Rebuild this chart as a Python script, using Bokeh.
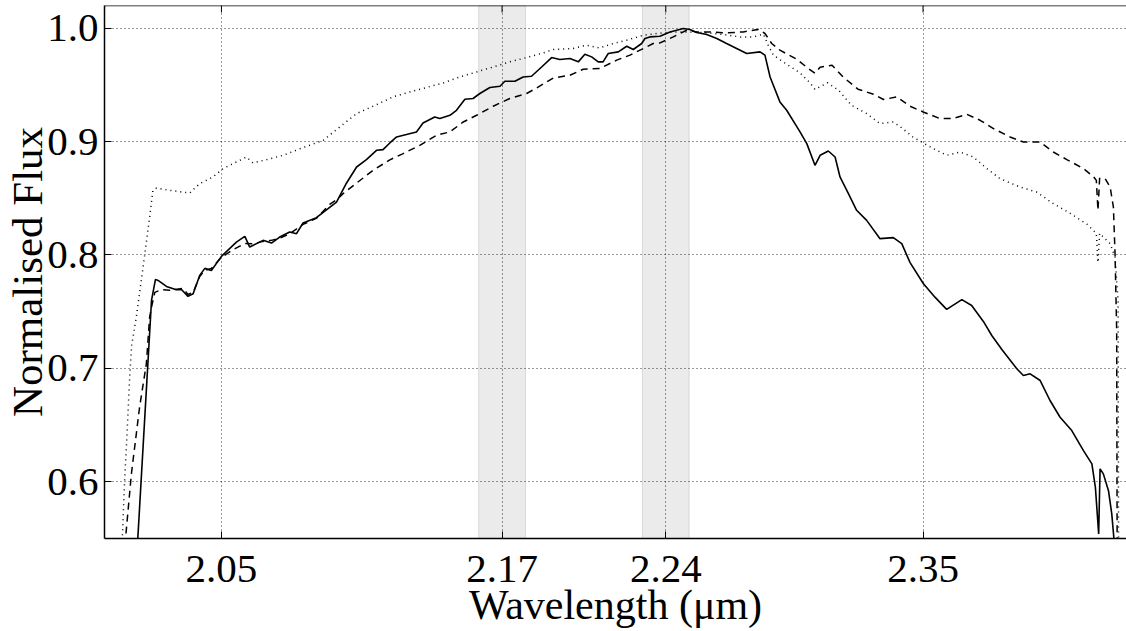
from bokeh.plotting import figure
from bokeh.models import Range1d, FixedTicker, BoxAnnotation, NumeralTickFormatter, Span
from bokeh.embed import file_html
from bokeh.resources import INLINE

# ---- data (wavelength in micron, normalised flux) ----
wl_solid = [2.0141, 2.0201, 2.0218, 2.0229, 2.0265, 2.0307, 2.0329, 2.0357, 2.0379, 2.0407,
            2.0429, 2.0457, 2.0500, 2.0564, 2.0600, 2.0621, 2.0678, 2.0714, 2.0749, 2.0792,
            2.0821, 2.0849, 2.0906, 2.0956, 2.0992, 2.1035, 2.1078, 2.1120, 2.1163, 2.1191,
            2.1220, 2.1249, 2.1291, 2.1334, 2.1362, 2.1412, 2.1434, 2.1477, 2.1505, 2.1541,
            2.1576, 2.1605, 2.1648, 2.1691, 2.1712, 2.1755, 2.1790, 2.1826, 2.1869, 2.1912,
            2.1947, 2.1990, 2.2026, 2.2054, 2.2083, 2.2111, 2.2132, 2.2154, 2.2197, 2.2233,
            2.2261, 2.2297, 2.2311, 2.2332, 2.2375, 2.2418, 2.2475, 2.2503, 2.2532, 2.2575,
            2.2618, 2.2660, 2.2703, 2.2746, 2.2803, 2.2824, 2.2846, 2.2888, 2.2917, 2.2974,
            2.3003, 2.3038, 2.3060, 2.3095, 2.3124, 2.3145, 2.3181, 2.3216, 2.3259, 2.3316,
            2.3373, 2.3409, 2.3444, 2.3501, 2.3551, 2.3601, 2.3666, 2.3708, 2.3758, 2.3794,
            2.3837, 2.3901, 2.3929, 2.3958, 2.4001, 2.4043, 2.4086, 2.4136, 2.4186, 2.4222,
            2.4237, 2.4251, 2.4257, 2.4271, 2.4293, 2.4307, 2.4317]
flux_solid = [0.545, 0.7599, 0.7785, 0.7776, 0.7723, 0.7694, 0.7696, 0.7635, 0.7658, 0.7820,
              0.7882, 0.7864, 0.7988, 0.8114, 0.8164, 0.8070, 0.8129, 0.8105, 0.8158, 0.8202,
              0.8188, 0.8282, 0.8329, 0.8409, 0.8467, 0.8635, 0.8776, 0.8841, 0.8923, 0.8929,
              0.8988, 0.9041, 0.9062, 0.9085, 0.9164, 0.9217, 0.9203, 0.9232, 0.9276, 0.9373,
              0.9380, 0.9424, 0.9477, 0.9488, 0.9532, 0.9532, 0.9570, 0.9576, 0.9658, 0.9741,
              0.9724, 0.9733, 0.9703, 0.9771, 0.9747, 0.9703, 0.9703, 0.9777, 0.9791, 0.9841,
              0.9812, 0.9865, 0.9909, 0.9923, 0.9929, 0.9967, 0.9997, 0.9989, 0.9962, 0.9944,
              0.9909, 0.9865, 0.9821, 0.9777, 0.9791, 0.9762, 0.9570, 0.9350, 0.9276, 0.9085,
              0.8982, 0.8791, 0.8879, 0.8917, 0.8864, 0.8688, 0.8541, 0.8394, 0.8305, 0.8144,
              0.8153, 0.8100, 0.7935, 0.7749, 0.7628, 0.7520, 0.7606, 0.7555, 0.7414, 0.7290,
              0.7167, 0.6997, 0.6937, 0.6952, 0.6893, 0.6717, 0.6569, 0.6452, 0.6275, 0.6158,
              0.5951, 0.5540, 0.6114, 0.6070, 0.5922, 0.5717, 0.5480]

wl_dashed = [2.0082, 2.0091, 2.0115, 2.0150, 2.0179, 2.0193, 2.0201, 2.0215, 2.0243, 2.0279,
             2.0336, 2.0357, 2.0379, 2.0407, 2.0429, 2.0457, 2.0500, 2.0550, 2.0600, 2.0635,
             2.0678, 2.0714, 2.0749, 2.0792, 2.0849, 2.0906, 2.0963, 2.0999, 2.1020, 2.1078,
             2.1149, 2.1220, 2.1277, 2.1348, 2.1420, 2.1477, 2.1534, 2.1591, 2.1662, 2.1733,
             2.1805, 2.1848, 2.1919, 2.1990, 2.2047, 2.2118, 2.2190, 2.2247, 2.2304, 2.2346,
             2.2375, 2.2432, 2.2461, 2.2489, 2.2532, 2.2589, 2.2660, 2.2731, 2.2796, 2.2824,
             2.2853, 2.2888, 2.2960, 2.3008, 2.3038, 2.3060, 2.3111, 2.3159, 2.3222, 2.3288,
             2.3331, 2.3388, 2.3444, 2.3501, 2.3572, 2.3629, 2.3687, 2.3744, 2.3801, 2.3872,
             2.3929, 2.4001, 2.4057, 2.4115, 2.4186, 2.4230, 2.4241, 2.4248, 2.4255, 2.4279,
             2.4300, 2.4314, 2.4321, 2.4328, 2.4330]
flux_dashed = [0.544, 0.5525, 0.6070, 0.6658, 0.7041, 0.7452, 0.7540, 0.7670, 0.7694, 0.7688,
               0.7705, 0.7652, 0.7670, 0.7811, 0.7864, 0.7882, 0.7979, 0.8047, 0.8102, 0.8098,
               0.8120, 0.8129, 0.8147, 0.8188, 0.8270, 0.8323, 0.8447, 0.8497, 0.8541, 0.8635,
               0.8747, 0.8839, 0.8894, 0.8967, 0.9056, 0.9085, 0.9173, 0.9232, 0.9312, 0.9380,
               0.9424, 0.9473, 0.9561, 0.9585, 0.9638, 0.9644, 0.9718, 0.9762, 0.9821, 0.9865,
               0.9870, 0.9923, 0.9953, 0.9982, 0.9967, 0.9967, 0.9959, 0.9967, 0.9989, 0.9953,
               0.9865, 0.9806, 0.9726, 0.9647, 0.9603, 0.9656, 0.9673, 0.9568, 0.9462, 0.9417,
               0.9371, 0.9394, 0.9312, 0.9261, 0.9203, 0.9203, 0.9241, 0.9188, 0.9115, 0.9041,
               0.8996, 0.8996, 0.8908, 0.8841, 0.8762, 0.8688, 0.8658, 0.8394, 0.8676, 0.8673,
               0.8599, 0.8423, 0.8012, 0.7335, 0.544]

wl_dotted = [2.0075, 2.0086, 2.0095, 2.0108, 2.0116, 2.0136, 2.0165, 2.0193, 2.0207, 2.0222,
             2.0279, 2.0364, 2.0407, 2.0464, 2.0507, 2.0564, 2.0607, 2.0635, 2.0693, 2.0764,
             2.0849, 2.0935, 2.1006, 2.1078, 2.1149, 2.1234, 2.1306, 2.1377, 2.1448, 2.1519,
             2.1591, 2.1662, 2.1733, 2.1805, 2.1876, 2.1919, 2.2004, 2.2061, 2.2118, 2.2175,
             2.2233, 2.2304, 2.2361, 2.2432, 2.2489, 2.2575, 2.2646, 2.2717, 2.2774, 2.2817,
             2.2838, 2.2860, 2.2917, 2.2974, 2.3017, 2.3038, 2.3091, 2.3139, 2.3194, 2.3259,
             2.3316, 2.3373, 2.3413, 2.3456, 2.3501, 2.3544, 2.3601, 2.3658, 2.3715, 2.3773,
             2.3829, 2.3915, 2.3986, 2.4057, 2.4131, 2.4202, 2.4241, 2.4248, 2.4255, 2.4300,
             2.4321, 2.4334, 2.4336]
flux_dotted = [0.544, 0.6010, 0.6364, 0.6937, 0.7202, 0.7452, 0.7893, 0.8335, 0.8570, 0.8590,
               0.8570, 0.8546, 0.8629, 0.8688, 0.8762, 0.8820, 0.8864, 0.8811, 0.8841, 0.8879,
               0.8947, 0.9011, 0.9129, 0.9247, 0.9312, 0.9394, 0.9438, 0.9477, 0.9517, 0.9570,
               0.9614, 0.9658, 0.9703, 0.9741, 0.9782, 0.9812, 0.9821, 0.9850, 0.9826, 0.9865,
               0.9894, 0.9938, 0.9953, 0.9967, 0.9967, 0.9959, 0.9944, 0.9923, 0.9923, 0.9947,
               0.9850, 0.9762, 0.9682, 0.9605, 0.9517, 0.9459, 0.9519, 0.9453, 0.9320, 0.9247,
               0.9159, 0.9173, 0.9115, 0.9041, 0.8988, 0.8938, 0.8879, 0.8908, 0.8864, 0.8762,
               0.8673, 0.8599, 0.8555, 0.8453, 0.8365, 0.8270, 0.8191, 0.7935, 0.8191, 0.8100,
               0.7981, 0.7599, 0.544]

x_ticks = [2.05, 2.17, 2.24, 2.35]
y_ticks = [0.6, 0.7, 0.8, 0.9, 1.0]
band_start = [2.16, 2.23]
band_end = [2.18, 2.25]
x_lim = (2.0, 2.437)
y_lim = (0.55, 1.02)

FONT = "Liberation Serif"

p = figure(width=1126, height=631, output_backend="svg", toolbar_location=None,
           x_range=Range1d(*x_lim), y_range=Range1d(*y_lim),
           min_border_left=104, min_border_right=0, min_border_top=5, min_border_bottom=93)
p.outline_line_color = None
p.background_fill_color = "white"
p.border_fill_color = "white"

for b0, b1 in zip(band_start, band_end):
    p.add_layout(BoxAnnotation(left=b0, right=b1, fill_color="#000000", fill_alpha=0.08,
                               line_color="#000000", line_alpha=0.12, line_width=1))

p.line(wl_solid, flux_solid, line_color="black", line_width=1.6)
p.line(wl_dashed, flux_dashed, line_color="black", line_width=1.5, line_dash="7 5")
p.line(wl_dotted, flux_dotted, line_color="black", line_width=1.5, line_dash="1 4")

xt = FixedTicker(ticks=x_ticks)
yt = FixedTicker(ticks=y_ticks)

for ax in p.xaxis:
    ax.ticker = xt
    ax.formatter = NumeralTickFormatter(format="0.00")
for ax in p.yaxis:
    ax.ticker = yt
    ax.formatter = NumeralTickFormatter(format="0.0")

for ax in list(p.xaxis) + list(p.yaxis):
    ax.major_tick_in = 7
    ax.major_tick_out = 0
    ax.minor_tick_line_color = None
    ax.axis_line_width = 1.5
    ax.axis_line_color = "black"
    ax.major_tick_line_color = "black"
    ax.major_label_text_font = FONT
    ax.major_label_text_font_size = "41px"
    ax.major_label_text_color = "black"
    ax.axis_label_text_font = FONT
    ax.axis_label_text_font_style = "normal"
    ax.axis_label_text_color = "black"

p.xaxis.axis_label = "Wavelength (μm)"
p.yaxis.axis_label = "Normalised Flux"
p.xaxis.axis_label_text_font_size = "42px"
p.yaxis.axis_label_text_font_size = "43px"
p.xaxis.major_label_standoff = 17
p.xaxis.axis_label_standoff = -3
p.yaxis.major_label_standoff = 6
p.yaxis.axis_label_standoff = -7

# top frame line with inward ticks (no labels)
p.add_layout(Span(location=y_lim[1], dimension="width", line_color="black", line_width=1.5))
tick_len = (y_lim[1] - y_lim[0]) * 7 / 533
p.segment(x0=x_ticks, y0=[y_lim[1]] * len(x_ticks), x1=x_ticks,
          y1=[y_lim[1] - tick_len] * len(x_ticks), line_color="black", line_width=1)

p.xgrid.ticker = xt
p.ygrid.ticker = yt
for g in (p.xgrid, p.ygrid):
    g.grid_line_color = "black"
    g.grid_line_alpha = 0.8
    g.grid_line_width = 1
    g.grid_line_dash = "1 3"

open("out.html", "w").write(file_html(p, INLINE))
